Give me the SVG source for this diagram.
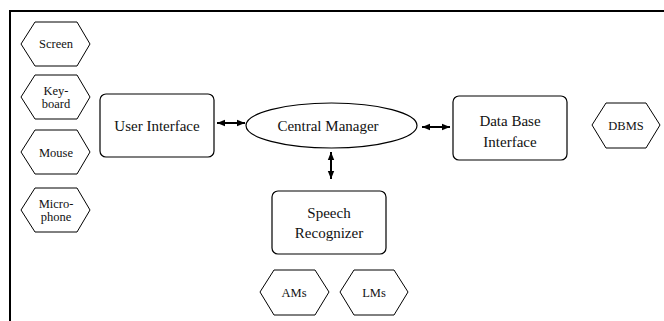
<svg xmlns="http://www.w3.org/2000/svg" width="664" height="321" viewBox="0 0 664 321">
  <style>
    .frame { stroke: #000; stroke-width: 2; fill: none; }
    .box { fill: #fff; stroke: #000; stroke-width: 1.2; }
    .hex { fill: #fff; stroke: #000; stroke-width: 1; }
    .name { font-family: 'Liberation Serif', 'Times New Roman', serif; font-size: 15px; fill: #111; text-anchor: middle; }
    .dev { font-family: 'Liberation Serif', 'Times New Roman', serif; font-size: 12.5px; fill: #111; text-anchor: middle; }
    .conn { stroke: #000; stroke-width: 2; fill: none; marker-start: url(#ah); marker-end: url(#ah); }
  </style>
  <defs>
    <marker id="ah" viewBox="0 0 10 10" refX="10" refY="5" markerWidth="4" markerHeight="4" orient="auto-start-reverse" markerUnits="strokeWidth">
      <path d="M0,1 L10,5 L0,9 Z" fill="#000"/>
    </marker>
  </defs>

  <rect width="664" height="321" fill="#fff"/>
  <!-- page frame: top and left rules -->
  <path class="frame" d="M10,321 V11 H664"/>

  <!-- device hexagons -->
  <g id="screen">
    <polygon class="hex" points="21,44 35,22 77,22 90,44 77,66 35,66"/>
    <text class="dev" x="56" y="48">Screen</text>
  </g>
  <g id="keyboard">
    <polygon class="hex" points="21,97 35,75 77,75 90,97 77,119 35,119"/>
    <text class="dev" x="56" y="95">Key-</text>
    <text class="dev" x="56" y="108">board</text>
  </g>
  <g id="mouse">
    <polygon class="hex" points="21,152 35,130 77,130 90,152 77,174 35,174"/>
    <text class="dev" x="56" y="157">Mouse</text>
  </g>
  <g id="microphone">
    <polygon class="hex" points="21,210 35,188 77,188 90,210 77,232 35,232"/>
    <text class="dev" x="56" y="208">Micro-</text>
    <text class="dev" x="56" y="221">phone</text>
  </g>

  <!-- main components -->
  <g id="user-interface">
    <rect class="box" x="100" y="94" width="114" height="63" rx="6"/>
    <text class="name" x="157" y="131">User Interface</text>
  </g>
  <g id="central-manager">
    <ellipse class="box" cx="331.5" cy="125.5" rx="85.5" ry="22.5"/>
    <text class="name" x="328" y="131">Central Manager</text>
  </g>
  <g id="db-interface">
    <rect class="box" x="453" y="96" width="114" height="64" rx="6"/>
    <text class="name" x="510" y="126">Data Base</text>
    <text class="name" x="510" y="147">Interface</text>
  </g>
  <g id="dbms">
    <polygon class="hex" points="592,125 606,103 646,103 660,125 646,148 606,148"/>
    <text class="dev" x="626" y="130">DBMS</text>
  </g>
  <g id="speech-recognizer">
    <rect class="box" x="272" y="191" width="114" height="63" rx="6"/>
    <text class="name" x="329" y="218">Speech</text>
    <text class="name" x="329" y="238">Recognizer</text>
  </g>
  <g id="ams">
    <polygon class="hex" points="260,292 274,270 315,270 329,292 315,315 274,315"/>
    <text class="dev" x="294" y="297">AMs</text>
  </g>
  <g id="lms">
    <polygon class="hex" points="340,292 354,270 394,270 408,292 394,315 354,315"/>
    <text class="dev" x="374" y="297">LMs</text>
  </g>

  <!-- connectors -->
  <g id="connectors">
    <line class="conn" x1="217" y1="123" x2="245" y2="123"/>
    <line class="conn" x1="422" y1="127" x2="450" y2="127"/>
    <line class="conn" x1="331" y1="152" x2="331" y2="179"/>
  </g>
</svg>
